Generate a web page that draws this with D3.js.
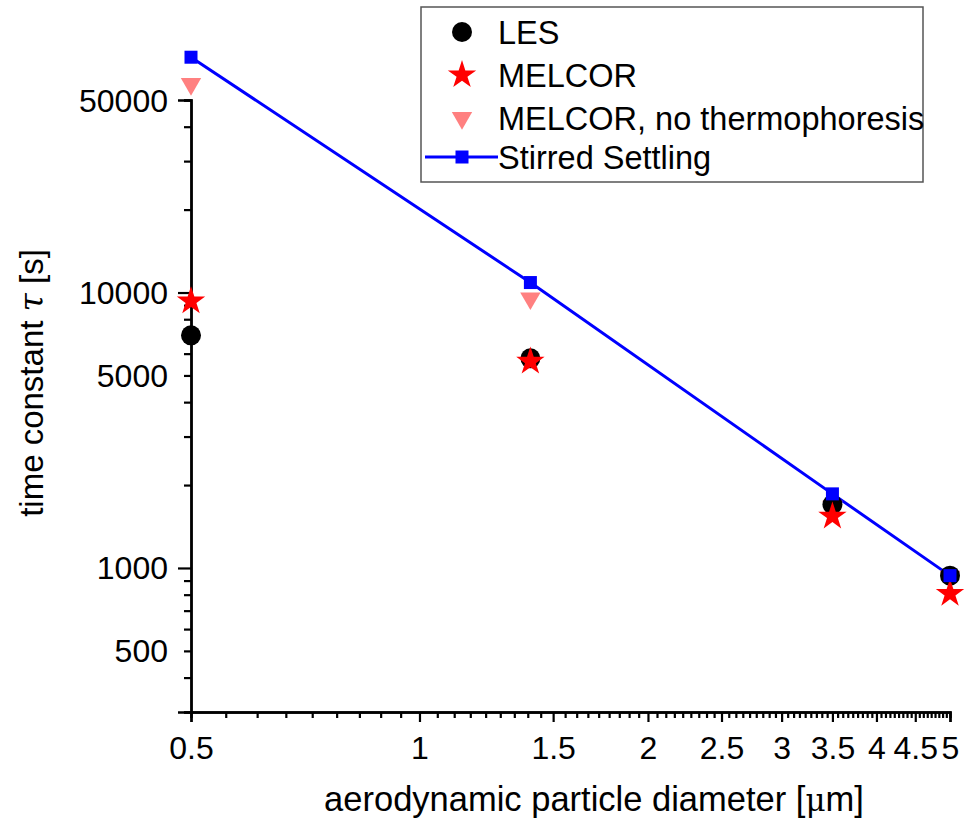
<!DOCTYPE html>
<html>
<head>
<meta charset="utf-8">
<script src="https://cdn.jsdelivr.net/npm/d3@7"></script>
<style>
  body { margin: 0; background: #fff; }
  text { font-family: "Liberation Sans", Arial, sans-serif; fill: #000; }
</style>
</head>
<body>
<script>
// particle diameters [um]
var diameters = [0.5, 1.4, 3.5, 5];
// time constants [s]
var les       = [6990, 5770, 1700, 938];
var melcor    = [9300, 5620, 1540, 807];
var melcorNoT = [57200, 9530, 1670, 930];
var stirred   = [71500, 10870, 1858, 938];

var xTickLabels = [0.5, 1, 1.5, 2, 2.5, 3, 3.5, 4, 4.5, 5];
var yTickLabels = [500, 1000, 5000, 10000, 50000];

const width = 968, height = 822;

const svg = d3.select("body")
  .append("svg")
  .attr("width", width)
  .attr("height", height);

// log scales
var x = d3.scaleLog().domain([0.5, 5]).range([191, 950]);
var y = d3.scaleLog().domain([300, 50000]).range([712, 100]);

// x ticks: 8 minor ticks between each labelled step of 0.5
var xMinor = [];
for (var i = 0; i < xTickLabels.length - 1; i++) {
  for (var k = 1; k < 9; k++) xMinor.push(xTickLabels[i] + k * 0.5 / 9);
}

svg.append("g").attr("transform", "translate(0,712)")
  .call(d3.axisBottom(x).tickValues(xMinor).tickSize(6).tickFormat(""));
var gx = svg.append("g").attr("transform", "translate(0,712)")
  .call(d3.axisBottom(x).tickValues(xTickLabels).tickSize(10).tickPadding(14)
    .tickFormat(d3.format("")));

// y ticks
var yMinor = [300, 400, 500, 600, 700, 800, 900, 2000, 3000, 4000, 5000, 6000, 7000, 8000, 9000,
              20000, 30000, 40000, 50000];
var yLong = [1000, 10000];

svg.append("g").attr("transform", "translate(191,0)")
  .call(d3.axisLeft(y).tickValues(yMinor).tickSize(7).tickFormat(""));
var gy = svg.append("g").attr("transform", "translate(191,0)")
  .call(d3.axisLeft(y).tickValues(yLong).tickSize(13).tickFormat(""));

// y labels
gy.selectAll("text.ylab")
  .data(yTickLabels)
  .enter().append("text")
  .attr("class", "ylab")
  .attr("x", -23)
  .attr("y", function(d) { return y(d); })
  .attr("dy", "0.36em")
  .attr("text-anchor", "end")
  .style("font-size", "32px")
  .text(function(d) { return d; });

svg.selectAll(".domain").attr("stroke", "#000").attr("stroke-width", 2.4);
svg.selectAll(".tick line").attr("stroke", "#000").attr("stroke-width", 2.2);
gx.selectAll(".tick text").style("font-size", "32px").attr("fill", "#000");

// axis titles
svg.append("text")
  .attr("x", 594)
  .attr("y", 811)
  .attr("text-anchor", "middle")
  .style("font-size", "34.5px")
  .html('aerodynamic particle diameter [<tspan style="font-family:\'DejaVu Serif\',serif;font-size:31px">\u03bc</tspan>m]');

svg.append("text")
  .attr("transform", "translate(43,383) rotate(-90)")
  .attr("text-anchor", "middle")
  .style("font-size", "33px")
  .html('time constant <tspan style="font-family:\'DejaVu Serif\',serif;font-style:italic">\u03c4</tspan> [s]');

// line
var line = d3.line()
  .x(function(d, i) { return x(diameters[i]); })
  .y(function(d) { return y(d); });

svg.append("path")
  .datum(stirred)
  .attr("fill", "none")
  .attr("stroke", "#0000ff")
  .attr("stroke-width", 3)
  .attr("d", line);

var star = d3.symbol().type(d3.symbolStar).size(250);
var tri = d3.symbol().type(d3.symbolTriangle).size(180);

// MELCOR no thermophoresis
svg.selectAll("path.tri")
  .data(melcorNoT)
  .enter().append("path")
  .attr("class", "tri")
  .attr("d", tri)
  .attr("fill", "#ff8080")
  .attr("transform", function(d, i) { return "translate(" + x(diameters[i]) + "," + y(d) + ") rotate(180)"; });

// LES
svg.selectAll("circle.les")
  .data(les)
  .enter().append("circle")
  .attr("class", "les")
  .attr("cx", function(d, i) { return x(diameters[i]); })
  .attr("cy", function(d) { return y(d); })
  .attr("r", 10)
  .attr("fill", "#000");

// MELCOR
svg.selectAll("path.star")
  .data(melcor)
  .enter().append("path")
  .attr("class", "star")
  .attr("d", star)
  .attr("fill", "#ff0000")
  .attr("transform", function(d, i) { return "translate(" + x(diameters[i]) + "," + y(d) + ")"; });

// Stirred settling squares
svg.selectAll("rect.sq")
  .data(stirred)
  .enter().append("rect")
  .attr("class", "sq")
  .attr("x", function(d, i) { return x(diameters[i]) - 6.5; })
  .attr("y", function(d) { return y(d) - 6.5; })
  .attr("width", 13)
  .attr("height", 13)
  .attr("fill", "#0000ff");

// legend
var lg = svg.append("g");
lg.append("rect")
  .attr("x", 421).attr("y", 7)
  .attr("width", 502).attr("height", 175)
  .attr("fill", "#fff")
  .attr("stroke", "#555")
  .attr("stroke-width", 1.5);

var names = ["LES", "MELCOR", "MELCOR, no thermophoresis", "Stirred Settling"];
var rowY = [32, 75, 118, 157];

lg.append("circle").attr("cx", 462).attr("cy", rowY[0]).attr("r", 10).attr("fill", "#000");
lg.append("path").attr("d", star).attr("fill", "#ff0000")
  .attr("transform", "translate(462," + rowY[1] + ")");
lg.append("path").attr("d", tri).attr("fill", "#ff8080")
  .attr("transform", "translate(462," + rowY[2] + ") rotate(180)");
lg.append("line").attr("x1", 425).attr("x2", 498).attr("y1", rowY[3]).attr("y2", rowY[3])
  .attr("stroke", "#0000ff").attr("stroke-width", 3);
lg.append("rect").attr("x", 455.5).attr("y", rowY[3] - 6.5).attr("width", 13).attr("height", 13)
  .attr("fill", "#0000ff");

lg.selectAll("text.leg")
  .data(names)
  .enter().append("text")
  .attr("class", "leg")
  .attr("x", 498)
  .attr("y", function(d, i) { return rowY[i]; })
  .attr("dy", "0.36em")
  .style("font-size", "32.5px")
  .text(function(d) { return d; });
</script>
</body>
</html>
